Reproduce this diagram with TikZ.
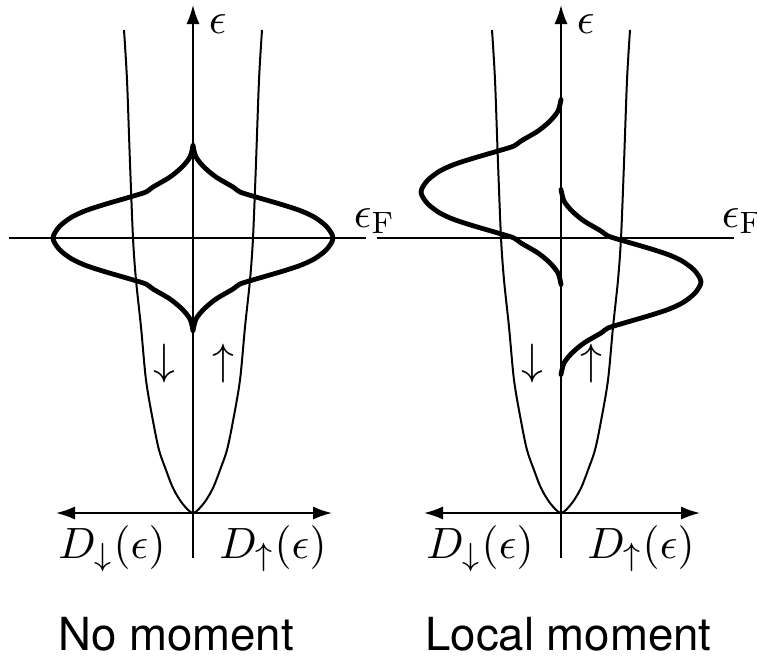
\documentclass[tikz,border=0pt]{standalone}
\usepackage{amsmath,amssymb}
\usepackage{fontspec}
\setsansfont{TeX Gyre Heros}
\usetikzlibrary{arrows.meta}

% one half of the d-level density of states, about its centre
\newcommand{\dosshape}{plot[smooth] coordinates {(0,92.5) (3,81) (11,71) (23,61) (40,51) (47,46) (63,41) (87,34) (107,27.5) (122,20.5) (134,11) (140,0) (134,-11) (122,-20.5) (107,-27.5) (87,-34) (63,-41) (47,-46) (40,-51) (23,-61) (11,-71) (3,-81) (0,-92.5)}}
% free electron band
\newcommand{\bandshape}{plot[smooth] coordinates {(-69,483) (-66,433) (-63,350) (-60,275) (-57,233) (-52,186) (-47,133) (-40,92) (-34,63) (-27,43) (-20,25) (-11,10) (0,0) (11,10) (20,25) (27,43) (34,63) (40,92) (47,133) (52,186) (57,233) (60,275) (63,350) (66,433) (69,483)}}

\begin{document}
\begin{tikzpicture}[x=0.25pt,y=0.25pt,
  every node/.style={font=\fontsize{11}{13}\selectfont},
  axis/.style={line width=0.5pt},
  tip/.style={line width=0.5pt,{Latex[length=4.75pt,width=3.3pt]}-{Latex[length=4.75pt,width=3.3pt]}},
  dos/.style={line width=1.2pt,line cap=round}]
\useasboundingbox (-193,-143) rectangle (564,513);
\foreach \off in {0,368}{
\begin{scope}[shift={(\off,0)}]
\draw[axis] \bandshape;
\draw[axis,-{Latex[length=4.75pt,width=3.3pt]}] (0,-45) -- (0,508);
\draw[tip] (-137,0) -- (139,0);
\draw[axis] (-184,275) -- (173,275);
\node[anchor=base west,inner sep=0pt] (eps\off) at (15,480) {$\epsilon$};
\node[anchor=base west,inner sep=0pt] (epsF\off) at (160,286) {$\epsilon_{\mathrm{F}}$};
\node (dn\off) at (-29,149) {$\downarrow$};
\node (up\off) at (30,149) {$\uparrow$};
\node[anchor=base] (Ddn\off) at (-81,-45) {$D_\downarrow(\epsilon)$};
\node[anchor=base] (Dup\off) at (80,-45) {$D_\uparrow(\epsilon)$};
\end{scope}
}
% no moment: both spins alike
\draw[dos,shift={(0,275)}] \dosshape;
\draw[dos,shift={(0,275)},xscale=-1] \dosshape;
% local moment: spin down pushed up, spin up pushed down
\draw[dos,shift={(368,321)},xscale=-1] \dosshape;
\draw[dos,shift={(368,231)}] \dosshape;
\node[anchor=base,font=\fontsize{11.4}{13}\selectfont\sffamily] (nomom) at (-17,-137) {No moment};
\node[anchor=base,font=\fontsize{11.4}{13}\selectfont\sffamily] (locmom) at (375.5,-137) {Local moment};
\end{tikzpicture}
\end{document}
